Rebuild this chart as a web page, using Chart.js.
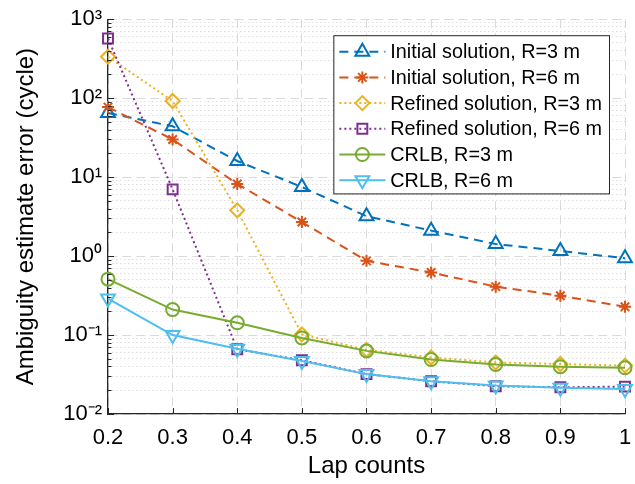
<!DOCTYPE html>
<html>
<head>
<meta charset="utf-8">
<script src="https://cdn.jsdelivr.net/npm/chart.js@4"></script>
<style>
  html, body { margin: 0; padding: 0; background: #fff; }
  #wrap { width: 635px; height: 484px; }
</style>
</head>
<body>
<div id="wrap"><canvas id="errChart" width="635" height="484"></canvas></div>
<script>
// Данные
const lapCounts = [0.2, 0.3, 0.4, 0.5, 0.6, 0.7, 0.8, 0.9, 1.0];
const initialR3 = [65, 44, 16, 7.5, 3.2, 2.1, 1.42, 1.16, 0.94];
const initialR6 = [77, 30, 8.2, 2.7, 0.87, 0.62, 0.41, 0.315, 0.228];
const refinedR3 = [335, 92, 3.8, 0.102, 0.065, 0.052, 0.045, 0.043, 0.041];
const refinedR6 = [570, 7.0, 0.066, 0.048, 0.032, 0.026, 0.0225, 0.0218, 0.0222];
const crlbR3 = [0.51, 0.21, 0.143, 0.092, 0.063, 0.049, 0.0425, 0.0397, 0.0385];
const crlbR6 = [0.29, 0.1, 0.067, 0.047, 0.032, 0.026, 0.023, 0.0215, 0.0208];

const seriesNames = [
  "Initial solution, R=3 m",
  "Initial solution, R=6 m",
  "Refined solution, R=3 m",
  "Refined solution, R=6 m",
  "CRLB, R=3 m",
  "CRLB, R=6 m",
];

// Подписи осей
const xTicks = [0.2, 0.3, 0.4, 0.5, 0.6, 0.7, 0.8, 0.9, 1];
const yDecades = [0.01, 0.1, 1, 10, 100, 1000];
const yDecadeLabels = ["10⁻²", "10⁻¹", "10⁰", "10¹", "10²", "10³"];

const FONT = "'Liberation Sans', Arial, Helvetica, sans-serif";
const TXT = "#262626";

// Стили серий (цвета MATLAB)
const styles = [
  { color: "#0072BD", dash: [9, 6], point: "triangle", r: 8, rot: 0 },
  { color: "#D95319", dash: [9, 6], point: "star", r: 6, rot: 0 },
  { color: "#EDB120", dash: [2, 3], point: "rectRot", r: 7, rot: 0 },
  { color: "#7E2F8E", dash: [2, 3], point: "rect", r: 7, rot: 0 },
  { color: "#77AC30", dash: [], point: "circle", r: 6.5, rot: 0 },
  { color: "#4DBEEE", dash: [], point: "triangle", r: 8, rot: 180 },
];
const seriesData = [initialR3, initialR6, refinedR3, refinedR6, crlbR3, crlbR6];

// Деления оси Y: 1..9 в каждой декаде
const yTickValues = [];
yDecades.forEach((d, i) => {
  if (i === yDecades.length - 1) { yTickValues.push(d); return; }
  for (let k = 1; k <= 9; k++) yTickValues.push(+(k * d).toPrecision(3));
});
const isDecade = (v) => yDecades.some((d) => Math.abs(v - d) / d < 1e-6);

const datasets = seriesData.map((vals, i) => ({
  label: seriesNames[i],
  data: lapCounts.map((x, j) => ({ x, y: vals[j] })),
  borderColor: styles[i].color,
  backgroundColor: "transparent",
  borderWidth: 2,
  borderDash: styles[i].dash,
  pointStyle: styles[i].point,
  pointRadius: styles[i].r,
  pointRotation: styles[i].rot,
  pointBorderWidth: 2,
  pointBorderColor: styles[i].color,
  pointBackgroundColor: "transparent",
  tension: 0,
  clip: false,
  order: 6 - i, // последние серии сверху, как в MATLAB
}));

// Внутренние засечки на осях (как в MATLAB)
const innerTicks = {
  id: "innerTicks",
  afterDatasetsDraw(chart) {
    const { ctx, chartArea, scales } = chart;
    ctx.save();
    ctx.strokeStyle = TXT;
    ctx.lineWidth = 1;
    ctx.beginPath();
    yTickValues.forEach((v) => {
      const y = Math.round(scales.y.getPixelForValue(v)) + 0.5;
      const len = isDecade(v) ? 6 : 3.5;
      ctx.moveTo(chartArea.left, y);
      ctx.lineTo(chartArea.left + len, y);
    });
    xTicks.forEach((v) => {
      const x = Math.round(scales.x.getPixelForValue(v)) + 0.5;
      ctx.moveTo(x, chartArea.bottom);
      ctx.lineTo(x, chartArea.bottom - 6);
    });
    ctx.stroke();
    ctx.restore();
  },
};

// Легенда в рамке, как в MATLAB
const boxLegend = {
  id: "boxLegend",
  afterDraw(chart) {
    const { ctx, chartArea } = chart;
    ctx.save();
    ctx.font = "19.8px " + FONT;
    let maxW = 0;
    chart.data.datasets.forEach((ds) => {
      maxW = Math.max(maxW, ctx.measureText(ds.label).width);
    });
    const rowH = 25.7;
    const w = maxW + 64;
    const h = rowH * 6 + 4;
    const right = chartArea.right - 16;
    const left = right - w;
    const top = chartArea.top + 16;
    ctx.fillStyle = "#fff";
    ctx.fillRect(left, top, w, h);
    ctx.strokeStyle = TXT;
    ctx.lineWidth = 1;
    ctx.strokeRect(left + 0.5, top + 0.5, w, h);

    chart.data.datasets.forEach((ds, i) => {
      const y = top + 16.5 + i * rowH;
      ctx.save();
      ctx.strokeStyle = ds.borderColor;
      ctx.lineWidth = 2;
      ctx.setLineDash(ds.borderDash);
      ctx.beginPath();
      ctx.moveTo(left + 6, y);
      ctx.lineTo(left + 52, y);
      ctx.stroke();
      ctx.setLineDash([]);
      ctx.fillStyle = "transparent";
      ctx.strokeStyle = ds.pointBorderColor;
      Chart.helpers.drawPoint(ctx, {
        pointStyle: ds.pointStyle,
        rotation: ds.pointRotation,
        radius: ds.pointRadius,
        borderWidth: 2,
      }, left + 29, y);
      ctx.restore();
      ctx.fillStyle = "#000";
      ctx.textBaseline = "middle";
      ctx.textAlign = "left";
      ctx.fillText(ds.label, left + 57, y + 1);
    });
    ctx.restore();
  },
};

new Chart(document.getElementById("errChart").getContext("2d"), {
  type: "line",
  data: { datasets },
  plugins: [innerTicks, boxLegend],
  options: {
    responsive: false,
    animation: false,
    layout: { padding: { top: 19, right: 0, left: 0, bottom: 0 } },
    plugins: { legend: { display: false }, tooltip: { enabled: false } },
    scales: {
      x: {
        type: "linear",
        min: 0.2,
        max: 1,
        afterBuildTicks: (scale) => { scale.ticks = xTicks.map((v) => ({ value: v })); },
        afterFit: (scale) => {
          scale.height = 70;
          scale.paddingRight = 9;
        },
        ticks: {
          color: "#000",
          font: { family: FONT, size: 22 },
          padding: 11,
          maxRotation: 0,
          callback: (v) => (v === 1 ? "1" : v.toFixed(1)),
        },
        grid: {
          color: "#dadada",
          lineWidth: 1,
          drawTicks: false,
        },
        border: {
          display: true,
          color: TXT,
          width: 1.3,
          dash: (c) => (c.tick ? [9, 5] : []),
        },
        title: {
          display: true,
          text: "Lap counts",
          color: "#000",
          font: { family: FONT, size: 24 },
          padding: { top: 0, bottom: 3 },
        },
      },
      y: {
        type: "logarithmic",
        min: 0.01,
        max: 1000,
        afterBuildTicks: (scale) => { scale.ticks = yTickValues.map((v) => ({ value: v })); },
        afterFit: (scale) => { scale.width = 108; },
        ticks: {
          color: "#000",
          font: { family: FONT, size: 22 },
          padding: 6,
          autoSkip: false,
          callback: (v) => {
            const i = yDecades.findIndex((d) => Math.abs(v - d) / d < 1e-6);
            return i >= 0 ? yDecadeLabels[i] : "";
          },
        },
        grid: {
          color: (c) => (c.tick && isDecade(c.tick.value) ? "#dadada" : "#d0d0d0"),
          lineWidth: 1,
          drawTicks: false,
        },
        border: {
          display: true,
          color: TXT,
          width: 1.3,
          dash: (c) => {
            if (!c.tick) return [];
            return isDecade(c.tick.value) ? [9, 5] : [1, 3];
          },
        },
        title: {
          display: true,
          text: "Ambiguity estimate error (cycle)",
          color: "#000",
          font: { family: FONT, size: 24 },
          padding: { top: 12, bottom: 4 },
        },
      },
    },
  },
});
</script>
</body>
</html>
